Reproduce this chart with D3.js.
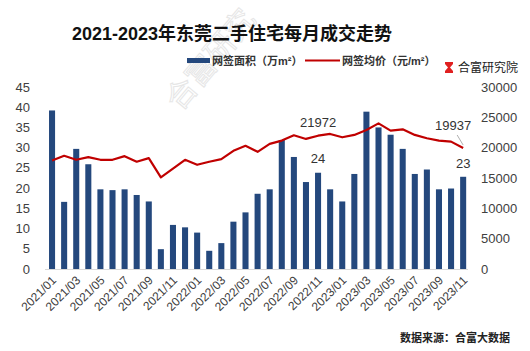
<!DOCTYPE html>
<html>
<head>
<meta charset="utf-8">
<script src="https://cdn.jsdelivr.net/npm/d3@7"></script>
<style>
  body { margin: 0; background: #fff; }
  text { font-family: "Liberation Sans", Arial, "Noto Sans CJK SC", sans-serif; }
</style>
</head>
<body>
<div id="chart"></div>
<script>
var width = 530, height = 351;

// months 2021/01 .. 2023/11
var months = [];
[2021, 2022, 2023].forEach(function (y) {
    for (var m = 1; m <= 12; m++) {
        if (y == 2023 && m > 11) break;
        months.push(y + '/' + (m < 10 ? '0' + m : m));
    }
});

// 网签面积 (万m²)
var area = [39.2, 16.6, 29.7, 25.9, 19.7, 19.5, 19.7, 18.3, 16.7, 4.9, 10.9, 10.3,
    9.0, 4.5, 6.4, 11.7, 14.0, 18.6, 19.7, 31.9, 27.7, 21.5, 23.8, 19.7,
    16.7, 23.5, 38.9, 35.0, 33.2, 29.7, 23.5, 24.6, 19.7, 19.9, 22.8];

// 网签均价 (元/m²)
var price = [17890, 18660, 18000, 18440, 18000, 18000, 18600, 17680, 18280, 15110, 16530, 18000,
    17180, 17680, 18110, 19480, 20300, 19310, 20620, 21170, 22040, 21440, 21972, 22260,
    21710, 22100, 22910, 24000, 22800, 23020, 22100, 21550, 21170, 21000, 19937];

var leftTicks = [0, 5, 10, 15, 20, 25, 30, 35, 40, 45];
var rightTicks = [0, 5000, 10000, 15000, 20000, 25000, 30000];

var barColor = '#24487d', lineColor = '#c00000';

var svg = d3.select('#chart').append('svg')
    .attr('width', width)
    .attr('height', height);

// watermark
svg.append('text')
    .attr('transform', 'translate(180,112) rotate(-50)')
    .style('font-size', '30px')
    .style('fill', 'none')
    .style('stroke', '#e6e6e6')
    .style('stroke-width', 1)
    .text('合富研究');

var x = d3.scaleBand()
    .domain(months)
    .range([46, 469.2])
    .paddingInner(0.5)
    .paddingOuter(0.25);

var yL = d3.scaleLinear().domain([0, 45]).range([269, 87]);
var yR = d3.scaleLinear().domain([0, 30000]).range([269, 87]);

// title
svg.append('text')
    .attr('x', 232)
    .attr('y', 40)
    .attr('text-anchor', 'middle')
    .style('font-size', '18px')
    .style('font-weight', 'bold')
    .style('fill', '#111')
    .text('2021-2023年东莞二手住宅每月成交走势');

// legend
var legend = svg.append('g').attr('class', 'legend');
legend.append('rect')
    .attr('x', 187).attr('y', 58).attr('width', 23).attr('height', 5)
    .style('fill', barColor);
legend.append('text')
    .attr('x', 212).attr('y', 65)
    .style('font-size', '11px').style('font-weight', 'bold').style('fill', '#333')
    .text('网签面积（万m²）');
legend.append('line')
    .attr('x1', 305).attr('x2', 340).attr('y1', 60.5).attr('y2', 60.5)
    .style('stroke', lineColor).style('stroke-width', 2);
legend.append('text')
    .attr('x', 342).attr('y', 65)
    .style('font-size', '11px').style('font-weight', 'bold').style('fill', '#333')
    .text('网签均价（元/m²）');
legend.append('path')
    .attr('d', 'M445,62 H453 V64 L450,67.5 L453,71 V73 H445 V71 L448,67.5 L445,64 Z')
    .style('fill', '#e02020');
legend.append('text')
    .attr('x', 458).attr('y', 72)
    .style('font-size', '12px').style('fill', '#222')
    .text('合富研究院');

// baseline
svg.append('line')
    .attr('x1', 45).attr('x2', 468)
    .attr('y1', 269.5).attr('y2', 269.5)
    .style('stroke', '#d9d9d9').style('stroke-width', 1);

// left axis labels
svg.append('g').selectAll('text')
    .data(leftTicks)
    .enter().append('text')
    .attr('x', 30)
    .attr('y', d => yL(d) + 4.5)
    .attr('text-anchor', 'end')
    .style('font-size', '13px')
    .style('fill', '#404040')
    .text(d => d);

// right axis labels
svg.append('g').selectAll('text')
    .data(rightTicks)
    .enter().append('text')
    .attr('x', 481)
    .attr('y', d => yR(d) + 4.5)
    .style('font-size', '13px')
    .style('fill', '#404040')
    .text(d => d);

// bars
svg.append('g').selectAll('rect')
    .data(area)
    .enter().append('rect')
    .attr('x', (d, i) => x(months[i]))
    .attr('width', x.bandwidth())
    .attr('y', d => yL(d))
    .attr('height', d => yL(0) - yL(d))
    .style('fill', barColor);

// price line
var line = d3.line()
    .x((d, i) => x(months[i]) + x.bandwidth() / 2)
    .y(d => yR(d));

svg.append('path')
    .datum(price)
    .attr('d', line)
    .style('fill', 'none')
    .style('stroke', lineColor)
    .style('stroke-width', 2.2)
    .style('stroke-linejoin', 'round');

// x labels
svg.append('g').selectAll('text')
    .data(months.filter((d, i) => i % 2 == 0))
    .enter().append('text')
    .attr('transform', d => 'translate(' + (x(d) + x.bandwidth() / 2 + 5) + ',281) rotate(-45)')
    .attr('text-anchor', 'end')
    .style('font-size', '12px')
    .style('fill', '#404040')
    .text(d => d);

// value labels
function cx(i) { return x(months[i]) + x.bandwidth() / 2; }
var labels = svg.append('g').style('font-size', '13px').style('fill', '#333');
labels.append('text').attr('x', cx(22)).attr('y', 127).attr('text-anchor', 'middle').text(price[22]);
labels.append('text').attr('x', cx(22)).attr('y', 163).attr('text-anchor', 'middle').text(Math.round(area[22]));
labels.append('text').attr('x', cx(34) - 10).attr('y', 130).attr('text-anchor', 'middle').text(price[34]);
labels.append('text').attr('x', cx(34)).attr('y', 168).attr('text-anchor', 'middle').text(Math.round(area[34]));
svg.append('line')
    .attr('x1', cx(34) - 6).attr('y1', 135)
    .attr('x2', cx(34)).attr('y2', yR(price[34]) - 3)
    .style('stroke', '#999').style('stroke-width', 0.8);

// source
svg.append('text')
    .attr('x', 510).attr('y', 342)
    .attr('text-anchor', 'end')
    .style('font-size', '11px').style('font-weight', 'bold').style('fill', '#222')
    .text('数据来源：合富大数据');
</script>
</body>
</html>
